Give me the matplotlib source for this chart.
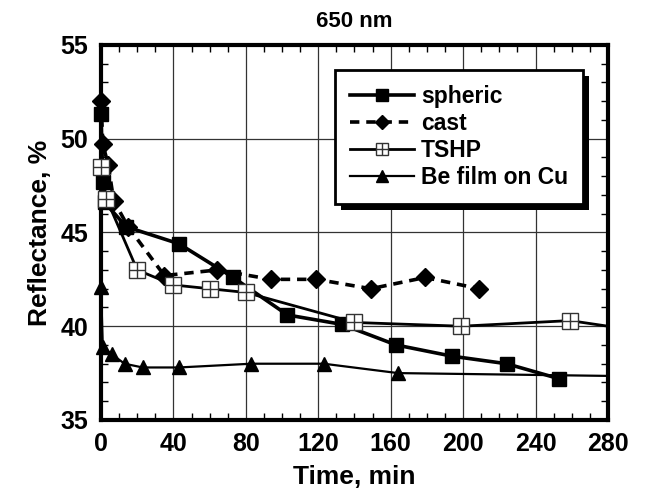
import matplotlib.pyplot as plt
from matplotlib.ticker import MultipleLocator
from matplotlib.legend_handler import HandlerTuple
import matplotlib.patheffects as pe

plt.rcParams['font.family'] = ['Liberation Sans', 'DejaVu Sans']
plt.rcParams['font.weight'] = 'bold'

# spheric
sph_t = [0, 1, 2, 14, 43, 73, 103, 133, 163, 194, 224, 253]
sph_r = [51.3, 47.7, 46.6, 45.3, 44.4, 42.6, 40.6, 40.1, 39.0, 38.4, 38.0, 37.2]

# cast
cast_t = [0, 1, 4, 7, 15, 35, 64, 94, 119, 149, 179, 209]
cast_r = [52.0, 49.7, 48.6, 46.7, 45.3, 42.7, 43.0, 42.5, 42.5, 42.0, 42.6, 42.0]

# TSHP (last value is where the line leaves the plot, no marker)
tshp_t = [0, 3, 20, 40, 60, 80, 140, 199, 259, 280]
tshp_r = [48.5, 46.8, 43.0, 42.2, 42.0, 41.8, 40.2, 40.0, 40.3, 40.0]

# Be film on Cu (last value is where the line leaves the plot, no marker)
be_t = [0, 1, 6, 13, 23, 43, 83, 123, 164, 280]
be_r = [42.1, 38.9, 38.5, 38.0, 37.8, 37.8, 38.0, 38.0, 37.5, 37.35]

fig = plt.figure(figsize=(6.45, 4.97), dpi=100)
ax = fig.add_axes([0.1566, 0.155, 0.786, 0.7545])

ax.grid(True, which='major', color='#333333', linewidth=0.9)
ax.set_axisbelow(True)

h_sph, = ax.plot(sph_t, sph_r, color='black', lw=2.6, marker='s', ms=10,
                 clip_on=False, zorder=5)
h_cast, = ax.plot(cast_t, cast_r, color='black', lw=2.6, ls=(0, (2.6, 1.9)),
                  marker='D', ms=9.5, clip_on=False, zorder=4)
tshp_marks = list(range(len(tshp_t) - 1))
h_tshp, = ax.plot(tshp_t, tshp_r, color='black', lw=2.0, marker='s', ms=11,
                  mfc='white', mec='#333333', mew=1.0, markevery=tshp_marks,
                  clip_on=False, zorder=6)
h_plus, = ax.plot(tshp_t[:-1], tshp_r[:-1], ls='none', marker='+', ms=11,
                  mec='#333333', mew=1.0, clip_on=False, zorder=7)
be_marks = list(range(len(be_t) - 1))
h_be, = ax.plot(be_t, be_r, color='black', lw=1.6, marker='^', ms=10,
                markevery=be_marks, clip_on=False, zorder=3)

ax.set_xlim(0, 280)
ax.set_ylim(35, 55)
ax.xaxis.set_major_locator(MultipleLocator(40))
ax.xaxis.set_minor_locator(MultipleLocator(10))
ax.yaxis.set_major_locator(MultipleLocator(5))
ax.yaxis.set_minor_locator(MultipleLocator(1))
ax.tick_params(which='both', direction='in', top=True, right=True,
               labelsize=18, width=1)
ax.tick_params(which='major', length=0)
ax.tick_params(axis='x', which='major', pad=9)
ax.tick_params(axis='y', which='major', pad=9)
ax.tick_params(which='minor', length=5)
for s in ax.spines.values():
    s.set_linewidth(3)

ax.set_title('650 nm', fontsize=16, fontweight='bold', pad=13)
ax.set_xlabel('Time, min', fontsize=19, fontweight='bold', labelpad=6)
ax.set_ylabel('Reflectance, %', fontsize=19, fontweight='bold', labelpad=6)

leg = ax.legend([h_sph, h_cast, (h_tshp, h_plus), h_be],
                ['spheric', 'cast', 'TSHP', 'Be film on Cu'],
                handler_map={tuple: HandlerTuple(ndivide=1, pad=0)},
                loc='upper right', bbox_to_anchor=(0.951, 0.933),
                borderaxespad=0, fontsize=16.5, handlelength=2.8,
                handletextpad=0.3, labelspacing=0.18, fancybox=False,
                edgecolor='black', framealpha=1, borderpad=0.65,
                markerscale=0.8)
leg.get_frame().set_linewidth(2)
leg.get_frame().set_path_effects([pe.SimplePatchShadow(offset=(4, -4),
                                  shadow_rgbFace='black', alpha=1),
                                  pe.Normal()])
leg.set_zorder(10)
for t in leg.get_texts():
    t.set_fontweight('bold')

fig.savefig('out.png', dpi=100)
